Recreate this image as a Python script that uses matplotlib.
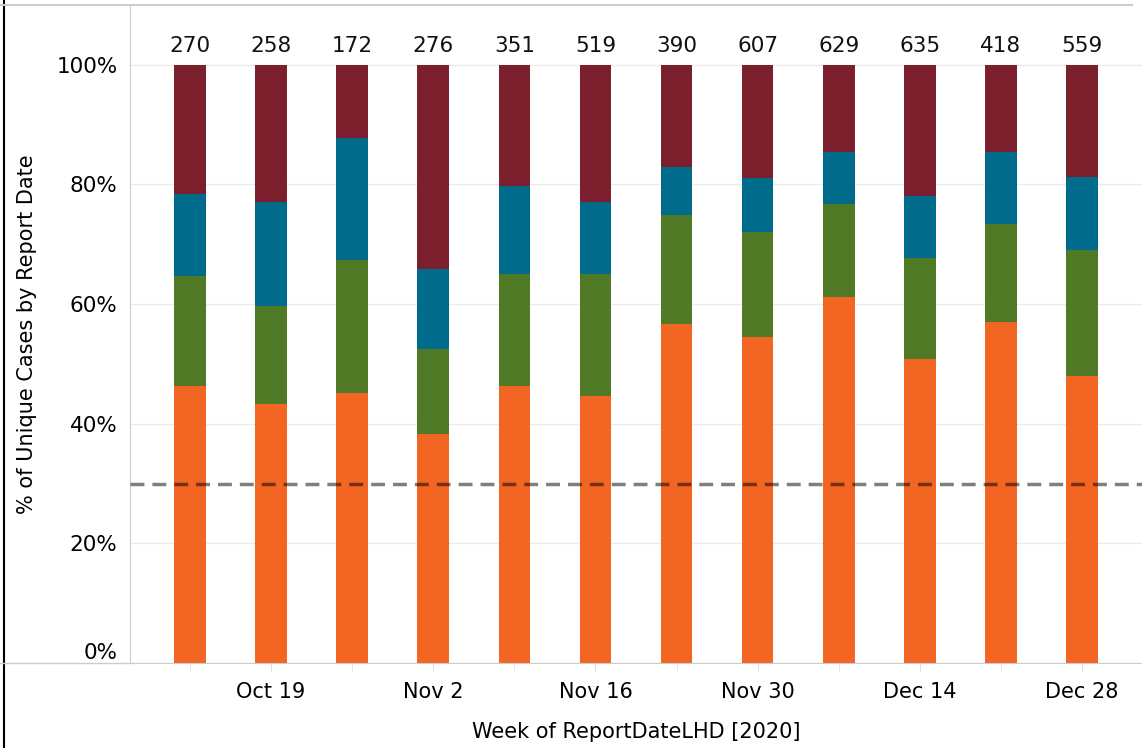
import matplotlib.pyplot as plt
import numpy as np

weeks = ['Oct 12', 'Oct 19', 'Oct 26', 'Nov 2', 'Nov 9', 'Nov 16', 'Nov 23',
         'Nov 30', 'Dec 7', 'Dec 14', 'Dec 21', 'Dec 28']
totals = [270, 258, 172, 276, 351, 519, 390, 607, 629, 635, 418, 559]

# cumulative tops of each segment (% of unique cases)
orange_top = [46.3, 43.3, 45.2, 38.3, 46.3, 44.6, 56.7, 54.5, 61.2, 50.8, 57.0, 48.0]
green_top = [64.7, 59.7, 67.4, 52.5, 65.1, 65.1, 74.9, 72.1, 76.8, 67.7, 73.4, 69.1]
blue_top = [78.4, 77.1, 87.8, 65.9, 79.8, 77.1, 82.9, 81.1, 85.5, 78.1, 85.5, 81.3]
red_top = [100] * 12
target = 30

colors = ['#F26522', '#507A26', '#006B8A', '#7B1F2D']

plt.rcParams['font.family'] = ['DejaVu Sans']
fig = plt.figure(figsize=(11.42, 7.48), dpi=100)
ax = fig.add_axes([130/1142, 1-663/748, 1012/1142, 658/748])

x = np.arange(len(weeks))
w = 0.39
bottoms = np.zeros(len(weeks))
for tops, c in zip([orange_top, green_top, blue_top, red_top], colors):
    tops = np.array(tops)
    ax.bar(x, tops - bottoms, bottom=bottoms, width=w, color=c, zorder=2)
    bottoms = tops

for xi, t in zip(x, totals):
    ax.text(xi, 103.2, str(t), ha='center', va='center', fontsize=15.5, color='#111111')

ax.axhline(target, color='black', alpha=0.5, lw=2.5, dashes=(4, 2.3), zorder=3)

ax.set_xlim(-0.74, 11.74)
ax.set_ylim(0, 110)
ax.set_yticks([0, 20, 40, 60, 80, 100])
ax.set_yticklabels(['0%', '20%', '40%', '60%', '80%', '100%'])
ax.get_yticklabels()[0].set_va('bottom')
ax.yaxis.grid(True, color='#EBEBEB', lw=1, zorder=0)
ax.set_xticks(x, minor=True)
ax.set_xticks(x[1::2])
ax.set_xticklabels(weeks[1::2])
ax.tick_params(axis='x', which='both', length=6, color='#E0E0E0', labelsize=15, pad=8)
ax.tick_params(axis='y', length=0, labelsize=15.5, pad=9)
for s in ['top', 'right']:
    ax.spines[s].set_visible(False)
ax.spines['left'].set_color('#CCCCCC')
ax.spines['bottom'].set_color('#CCCCCC')

ax.set_xlabel('Week of ReportDateLHD [2020]', fontsize=15, labelpad=14)
ax.set_ylabel('% of Unique Cases by Report Date', fontsize=15, labelpad=14)

# pane borders
fig.add_artist(plt.Line2D([4/1142, 4/1142], [0, 1], color='black', lw=1.5))
fig.add_artist(plt.Line2D([0, 1132/1142], [1-5/748, 1-5/748], color='#CCCCCC', lw=1.5))
fig.add_artist(plt.Line2D([0, 130/1142], [1-663/748, 1-663/748], color='#CCCCCC', lw=1))

fig.savefig('out.png', dpi=100)
